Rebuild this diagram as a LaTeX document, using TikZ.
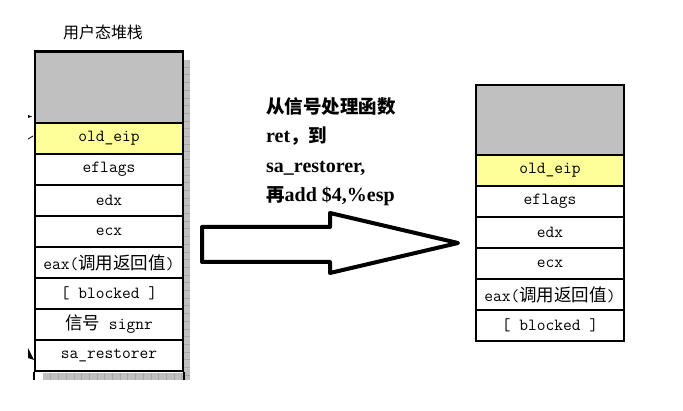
\documentclass[tikz,border=0pt]{standalone}
\usepackage{fontspec}
\newfontfamily\notefont{Liberation Serif}
\newfontfamily\cjk[Scale=1.03]{Noto Sans CJK SC}
\newfontfamily\cjkt{Noto Sans CJK SC}
\definecolor{stackgray}{HTML}{C0C0C0}
\definecolor{shadowline}{HTML}{A8A8A8}
\definecolor{eipyellow}{HTML}{FFFF99}
\tikzset{
	cell/.style={draw,fill=#1,minimum width=148pt,minimum height=31pt,inner sep=0pt,font=\ttfamily\fontsize{17}{17}\selectfont},
	topcell/.style={cell=stackgray,minimum height=#1},
	notetext/.style={anchor=base west,inner sep=0pt,font=\notefont\bfseries\fontsize{20}{20}\selectfont},
}
\begin{document}
\begin{tikzpicture}[x=1pt,y=-1pt]
		\useasboundingbox (0,0) rectangle (683,411);
		% shadow of the user stack
		\fill[stackgray] (183,60) rectangle (190,380);
		\foreach \y in {67,74.7,...,380} \draw[shadowline,line width=0.5pt] (183,\y) -- (190,\y);
		\fill[stackgray] (43,373) rectangle (183,380);
		\foreach \x in {50.7,58.4,...,183} \draw[shadowline,line width=0.5pt] (\x,373) -- (\x,380);
		% user stack
		\node[font=\cjkt\fontsize{16}{16}\selectfont] (title) at (103,32) {用户态堆栈};
		\node[topcell=71pt,line width=1.6pt] (lgray) at (109,87.5) {};
		\foreach \i / \t / \c in {1/old\_eip/eipyellow,2/eflags/white,3/edx/white,4/ecx/white,5/{eax({\cjk 调用返回值})}/white,6/{[ blocked ]}/white,7/{{\cjk 信号} signr}/white,8/sa\_restorer/white} \node[cell=\c,line width=1.6pt] (l\i) at (109,{123+31*(\i-1)+15.5}) {\t};
		\draw[line width=2.6pt] (lgray.north west) -- (lgray.north east);
		\draw[line width=1.6pt] (l8.south west) -- +(0,8) (l8.south east) -- +(0,8);
		\fill (28,115) -- (32,116.5) -- (28,118) -- cycle;
		\draw[line width=0.8pt] (28,139) -- (33,136);
		\fill (28,348) -- (28,358) -- (34,360) -- cycle;
		% big arrow
		\draw[line width=4pt,line join=round] (202,227) -- (330,227) -- (330,213) -- (458,243) -- (330,273) -- (330,262) -- (202,262) -- cycle;
		\foreach \i / \y / \t in {1/114/{{\cjkt\fontsize{18.5}{18.5}\selectfont 从信号处理函数}},2/143/{ret{\cjkt\fontsize{18.5}{18.5}\selectfont ，到}},3/172.5/{sa\_restorer,},4/202/{{\cjkt\fontsize{18.5}{18.5}\selectfont 再}add \$4,\%esp}} \node[notetext] (note\i) at (266,\y) {\t};
		% stack after return
		\node[topcell=70pt,line width=1.2pt] (rgray) at (550,120) {};
		\foreach \i / \t / \c in {1/old\_eip/eipyellow,2/eflags/white,3/edx/white,4/ecx/white,5/{eax({\cjk 调用返回值})}/white,6/{[ blocked ]}/white} \node[cell=\c,line width=1.2pt] (r\i) at (550,{155+31*(\i-1)+15.5}) {\t};
	\end{tikzpicture}
\end{document}
